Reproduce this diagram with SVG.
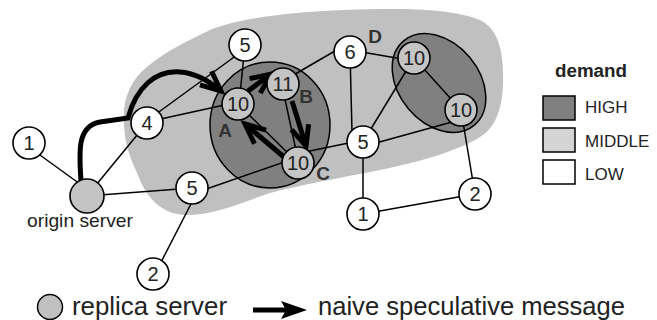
<svg xmlns="http://www.w3.org/2000/svg" width="657" height="320" viewBox="0 0 657 320">
<style>
.e{stroke:#000;stroke-width:1.5;fill:none}
.t{stroke:#000;stroke-width:5;fill:none;stroke-linecap:butt}
.n{fill:#fff;stroke:#000;stroke-width:1.6}
.g{fill:#c4c4c4;stroke:#000;stroke-width:1.6}
.nl{font-family:"Liberation Sans",Arial,sans-serif;font-size:20px;text-anchor:middle;fill:#222}
.lb{font-family:"Liberation Sans",Arial,sans-serif;font-size:19px;font-weight:bold;text-anchor:middle;fill:#333}
.tx{font-family:"Liberation Sans",Arial,sans-serif;fill:#222}
.hi{fill:#808080;stroke:#000;stroke-width:1.5}
</style>
<defs>
<marker id="ah" markerUnits="userSpaceOnUse" viewBox="-25 -15 30 30" refX="0" refY="0" markerWidth="30" markerHeight="30" orient="auto" overflow="visible">
<path d="M-20,-9 L0,0 L-20,9" fill="none" stroke="#000" stroke-width="5" stroke-linejoin="miter"/>
</marker>
</defs>
<g id="regions">
<path d="M124,125 C122,100 130,80 148,66 C165,52 185,42 210,30 C240,18 290,12 345,10 C400,8 450,8 480,20 C500,30 504,55 503,85 C502,110 495,128 480,137 C460,150 420,162 380,170 C340,178 300,185 270,193 C240,203 215,215 185,215 C160,214 145,195 138,175 C130,158 125,145 124,125 Z" fill="#c0c0c0"/>
<ellipse class="hi" cx="270" cy="125" rx="60" ry="63"/>
<ellipse class="hi" cx="439" cy="83" rx="55" ry="40" transform="rotate(50 439 83)"/>
</g>
<g id="connectors">
<line class="e" x1="33" y1="150" x2="80" y2="184"/>
<line class="e" x1="87" y1="196" x2="147" y2="123"/>
<line class="e" x1="87" y1="196" x2="192" y2="188"/>
<line class="e" x1="152" y1="117" x2="241" y2="52"/>
<line class="e" x1="147" y1="122" x2="238" y2="102"/>
<line class="e" x1="245" y1="45" x2="239" y2="104"/>
<line class="e" x1="285" y1="80" x2="340" y2="48"/>
<line class="e" x1="283" y1="90" x2="297" y2="155"/>
<line class="e" x1="238" y1="104" x2="298" y2="163"/>
<line class="e" x1="192" y1="194" x2="290" y2="160"/>
<line class="e" x1="305" y1="152" x2="363" y2="140"/>
<line class="e" x1="350" y1="50" x2="414" y2="61"/>
<line class="e" x1="350" y1="52" x2="352" y2="132"/>
<line class="e" x1="363" y1="142" x2="414" y2="58"/>
<line class="e" x1="414" y1="58" x2="461" y2="110"/>
<line class="e" x1="365" y1="146" x2="452" y2="122"/>
<line class="e" x1="461" y1="110" x2="475" y2="194"/>
<line class="e" x1="363" y1="142" x2="363" y2="214"/>
<line class="e" x1="363" y1="214" x2="475" y2="194"/>
<line class="e" x1="193" y1="200" x2="158" y2="268"/>
<path class="t" d="M81,181 C79,152 77,126 100,122 L128,118 C136,88 155,70 180,72 C195,73 208,80 221,91" marker-end="url(#ah)"/>
<line class="t" x1="248" y1="91" x2="271" y2="74" marker-end="url(#ah)"/>
<line class="t" x1="292" y1="101" x2="306" y2="146" marker-end="url(#ah)"/>
<line class="t" x1="284" y1="157" x2="245" y2="124" marker-end="url(#ah)"/>
</g>
<g id="n1"><circle class="n" cx="29" cy="143" r="16"/><text class="nl" x="29" y="150">1</text></g>
<g id="origin"><circle class="g" cx="87" cy="196" r="17"/><text class="tx" x="27" y="227" font-size="19" textLength="106" lengthAdjust="spacingAndGlyphs">origin server</text></g>
<g id="n4"><circle class="n" cx="147" cy="123" r="16"/><text class="nl" x="147" y="130">4</text></g>
<g id="n5top"><circle class="n" cx="245" cy="45" r="16"/><text class="nl" x="245" y="52">5</text></g>
<g id="nA"><circle class="g" cx="238" cy="104" r="16"/><text class="nl" x="238" y="111">10</text><text class="lb" x="225" y="137">A</text></g>
<g id="nB"><circle class="g" cx="283" cy="84" r="16"/><text class="nl" x="283" y="91">11</text><text class="lb" x="306" y="103">B</text></g>
<g id="nC"><circle class="g" cx="298" cy="163" r="16"/><text class="nl" x="298" y="170">10</text><text class="lb" x="323" y="180">C</text></g>
<g id="nD"><circle class="n" cx="350" cy="52" r="16"/><text class="nl" x="350" y="59">6</text><text class="lb" x="375" y="43">D</text></g>
<g id="n10tr"><circle class="g" cx="414" cy="58" r="16"/><text class="nl" x="414" y="65">10</text></g>
<g id="n10br"><circle class="g" cx="461" cy="110" r="16"/><text class="nl" x="461" y="117">10</text></g>
<g id="n5mid"><circle class="n" cx="363" cy="142" r="16"/><text class="nl" x="363" y="149">5</text></g>
<g id="n1b"><circle class="n" cx="363" cy="214" r="16"/><text class="nl" x="363" y="221">1</text></g>
<g id="n2r"><circle class="n" cx="475" cy="194" r="16"/><text class="nl" x="475" y="201">2</text></g>
<g id="n5b"><circle class="n" cx="192" cy="188" r="16"/><text class="nl" x="192" y="195">5</text></g>
<g id="n2b"><circle class="n" cx="153" cy="274" r="16"/><text class="nl" x="153" y="281">2</text></g>
<g id="legend-demand">
<text class="tx" x="555" y="77" font-size="18" font-weight="bold" textLength="72" lengthAdjust="spacingAndGlyphs">demand</text>
<rect x="543" y="96" width="32" height="24" fill="#808080" stroke="#000" stroke-width="1.5"/>
<text class="tx" x="585" y="113" font-size="17">HIGH</text>
<rect x="543" y="128" width="32" height="24" fill="#d4d4d4" stroke="#000" stroke-width="1.5"/>
<text class="tx" x="585" y="147" font-size="17">MIDDLE</text>
<rect x="543" y="160" width="32" height="24" fill="#fff" stroke="#000" stroke-width="1.5"/>
<text class="tx" x="585" y="180" font-size="17">LOW</text>
</g>
<g id="legend-bottom">
<circle cx="50" cy="307" r="12.5" fill="#c0c0c0" stroke="#000" stroke-width="1.5"/>
<text class="tx" x="72" y="315" font-size="26" textLength="155" lengthAdjust="spacingAndGlyphs">replica server</text>
<line x1="253" y1="310" x2="290" y2="310" stroke="#000" stroke-width="5"/>
<polygon points="281,301 307,310 281,319 286,310" fill="#000"/>
<text class="tx" x="318" y="315" font-size="26" textLength="307" lengthAdjust="spacingAndGlyphs">naive speculative message</text>
</g>
</svg>
